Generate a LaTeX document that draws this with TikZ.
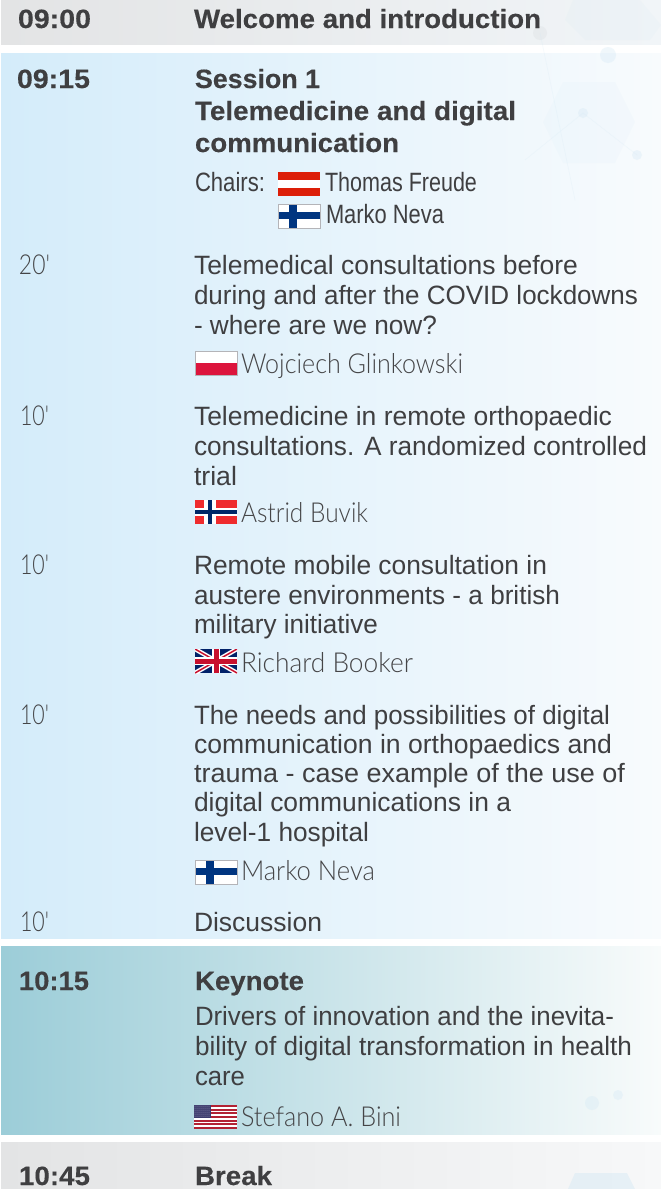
\documentclass[tikz,border=0pt]{standalone}
\usepackage{fontspec,graphicx}
\setmainfont{Liberation Sans}
\newfontfamily\lightf[UprightFont={* Light},Ligatures=NoCommon]{Lato}
\definecolor{ink}{HTML}{3F3F41}
\definecolor{lightink}{HTML}{454547}
\definecolor{fiblue}{HTML}{003580}
\definecolor{atred}{HTML}{DC1E08}
\definecolor{plred}{HTML}{DC143C}
\definecolor{nored}{HTML}{EF2B2D}
\definecolor{nob}{HTML}{002868}
\definecolor{ukb}{HTML}{012169}
\definecolor{ukr}{HTML}{C8102E}
\definecolor{usr}{HTML}{B22234}
\definecolor{usb}{HTML}{3C3B6E}
\definecolor{blueL}{HTML}{D4ECFA}
\definecolor{blueM}{HTML}{E6F3FB}
\definecolor{blueR}{HTML}{F8FBFD}
\definecolor{tealL}{HTML}{9CCDD8}
\definecolor{tealM}{HTML}{C2DFE6}
\definecolor{tealR}{HTML}{F8FBFB}
\definecolor{greyL}{HTML}{E3E4E5}
\definecolor{greyM}{HTML}{EBECED}
\definecolor{greyR}{HTML}{F7F8F9}
\definecolor{greyT}{HTML}{F1F5F8}
\definecolor{flagedge}{HTML}{B4B4B8}
\definecolor{decoB}{HTML}{CFE6F4}
\definecolor{decoG}{HTML}{D8DCDF}
\newcommand{\tline}[7]{%
  \pgfmathsetmacro{\wdv}{#4-#2}%
  \node[inner sep=0pt,outer sep=0pt,anchor=base west,text=#6] (#1) at (#2,#3)
    {\resizebox{\wdv pt}{\height}{\fontsize{#5pt}{#5pt}\selectfont #7}};}
\newcommand{\hd}[5]{\tline{#1}{#2}{#3}{#4}{26.5}{ink}{\addfontfeature{FakeBold=0.25}\bfseries #5}}
\newcommand{\bd}[5]{\tline{#1}{#2}{#3}{#4}{26.5}{ink}{#5}}
\newcommand{\nm}[5]{\tline{#1}{#2}{#3}{#4}{27.5}{lightink}{\lightf #5}}
\newcommand{\flagAT}[2]{\begin{scope}[shift={(#1,#2)}]
  \fill[white] (0,0) rectangle (42,24);
  \fill[atred] (0,0) rectangle (42,8); \fill[atred] (0,16) rectangle (42,24);
  \end{scope}}
\newcommand{\flagFI}[2]{\begin{scope}[shift={(#1,#2)}]
  \fill[white] (0,0) rectangle (42,24);
  \fill[fiblue] (0,8) rectangle (42,15); \fill[fiblue] (11,0) rectangle (19,24);
  \draw[flagedge,line width=.6pt] (0,0) rectangle (42,24);
  \end{scope}}
\newcommand{\flagPL}[2]{\begin{scope}[shift={(#1,#2)}]
  \fill[white] (0,0) rectangle (42,24);
  \fill[plred] (0,12) rectangle (42,24);
  \draw[flagedge,line width=.6pt] (0,0) rectangle (42,24);
  \end{scope}}
\newcommand{\flagNO}[2]{\begin{scope}[shift={(#1,#2)}]
  \fill[nored] (0,0) rectangle (42,24);
  \fill[white] (0,8) rectangle (42,16); \fill[white] (9,0) rectangle (21,24);
  \fill[nob] (0,10.2) rectangle (42,13.8); \fill[nob] (12.5,0) rectangle (16.5,24);
  \end{scope}}
\newcommand{\flagUK}[2]{\begin{scope}[shift={(#1,#2)}]
  \clip (0,0) rectangle (42,24);
  \fill[ukb] (0,0) rectangle (42,24);
  \draw[white,line width=4.5pt] (0,0) -- (42,24) (42,0) -- (0,24);
  \draw[ukr,line width=1.5pt] (0,0) -- (42,24) (42,0) -- (0,24);
  \fill[white] (0,8) rectangle (42,16); \fill[white] (17,0) rectangle (25,24);
  \fill[ukr] (0,9.5) rectangle (42,14.5); \fill[ukr] (18.5,0) rectangle (23.5,24);
  \end{scope}}
\newcommand{\flagUS}[2]{\begin{scope}[shift={(#1,#2)}]
  \fill[white] (0,0) rectangle (43,24);
  \foreach \i in {0,2,...,12} {\fill[usr] (0,\i*1.846) rectangle (43,\i*1.846+1.846);}
  \fill[usb] (0,0) rectangle (17,13);
  \foreach \u in {1,3,...,15} \foreach \v in {1,3,...,11} {\fill[white,opacity=.55] (\u,\v) circle (.5);}
  \end{scope}}
\tikzset{x=1pt,y=-1pt,
  netline/.style={draw=#1,line width=0.6pt,opacity=.2},
  netdot/.style={fill=#1,draw=none,opacity=.3},
  nethex/.style={fill=#1,draw=none,opacity=.1}}
\begin{document}
\begin{tikzpicture}
\useasboundingbox (0,0) rectangle (661,1189);
\fill[white] (0,0) rectangle (661,1189);
% bands
\shade[left color=greyL,middle color=greyM,right color=greyT] (1,0) rectangle (661,44);
\shade[left color=blueL,middle color=blueM,right color=blueR] (1,53) rectangle (661,938);
\shade[left color=tealL,middle color=tealM,right color=tealR] (1,946) rectangle (661,1134);
\shade[left color=greyL,middle color=greyM,right color=greyR] (1,1142) rectangle (661,1189);
% faint background network
\fill[nethex=decoB] (573,0) -- (640,0) -- (661,25) -- (650,40) -- (585,40) -- (565,20) -- cycle;
\fill[nethex=decoB] (563,82) -- (615,82) -- (635,122) -- (615,163) -- (563,163) -- (543,122) -- cycle;
\fill[netdot=decoG] (540,33) circle (7);
\fill[netdot=decoB] (608,55) circle (8);
\fill[netdot=decoB] (583,113) circle (5);
\fill[netdot=decoB] (637,155) circle (5);
\draw[netline=decoB] (540,33) -- (575,200) (525,160) -- (583,113) -- (637,155);
\fill[netdot=decoB] (592,1103) circle (7);
\fill[netdot=decoB] (618,1095) circle (5);
\fill[decoB,opacity=.4] (568,1189) -- (575,1173) -- (627,1173) -- (635,1189) -- cycle;
% header rows
\hd{t0900}{18}{28}{91}{09:00}
\hd{w0900}{194}{28}{541}{Welcome and introduction}
\hd{t0915}{17}{88}{90}{09:15}
\hd{s1}{195}{88}{320}{Session 1}
\hd{s2}{195}{120}{516}{Telemedicine and digital}
\hd{s3}{195}{152}{399}{communication}
\bd{chairs}{195}{191}{265}{Chairs:}
\flagAT{278}{172}
\bd{c1}{325}{191}{477}{Thomas Freude}
\flagFI{278}{204}
\bd{c2}{326}{223}{444}{Marko Neva}
% talk 1
\nm{d1}{19}{274}{50}{20\symbol{39}}
\bd{a1}{194}{274}{578}{Telemedical consultations before}
\bd{a2}{194}{304}{638}{during and after the COVID lockdowns}
\bd{a3}{194}{334}{437}{- where are we now?}
\flagPL{195}{351}
\nm{a4}{241}{373}{463}{Wojciech Glinkowski}
% talk 2
\nm{d2}{20}{425}{49}{10\symbol{39}}
\bd{b1}{194}{425}{612}{Telemedicine in remote orthopaedic}
\bd{b2}{194}{455}{647}{consultations. A randomized controlled}
\bd{b3}{194}{485}{237}{trial}
\flagNO{195}{500}
\nm{b4}{241}{522}{368}{Astrid Buvik}
% talk 3
\nm{d3}{20}{574}{49}{10\symbol{39}}
\bd{e1}{194}{574}{547}{Remote mobile consultation in}
\bd{e2}{194}{604}{560}{austere environments - a british}
\bd{e3}{194}{633}{378}{military initiative}
\flagUK{195}{649}
\nm{e4}{241}{672}{413}{Richard Booker}
% talk 4
\nm{d4}{20}{724}{49}{10\symbol{39}}
\bd{f1}{194}{724}{610}{The needs and possibilities of digital}
\bd{f2}{194}{753}{612}{communication in orthopaedics and}
\bd{f3}{194}{782}{625}{trauma - case example of the use of}
\bd{f4}{194}{811}{511}{digital communications in a}
\bd{f5}{194}{841}{369}{level-1 hospital}
\flagFI{195}{860}
\nm{f6}{241}{880}{375}{Marko Neva}
% discussion
\nm{d5}{20}{931}{49}{10\symbol{39}}
\bd{g1}{194}{931}{322}{Discussion}
% keynote
\hd{t1015}{19}{990}{89}{10:15}
\hd{k1}{195}{990}{304}{Keynote}
\bd{k2}{195}{1025}{614}{Drivers of innovation and the inevita-}
\bd{k3}{195}{1055}{632}{bility of digital transformation in health}
\bd{k4}{195}{1085}{245}{care}
\flagUS{194}{1105}
\nm{k5}{241}{1126}{401}{Stefano A. Bini}
% break
\hd{t1045}{19}{1185}{90}{10:45}
\hd{br}{195}{1185}{272}{Break}
\end{tikzpicture}
\end{document}
